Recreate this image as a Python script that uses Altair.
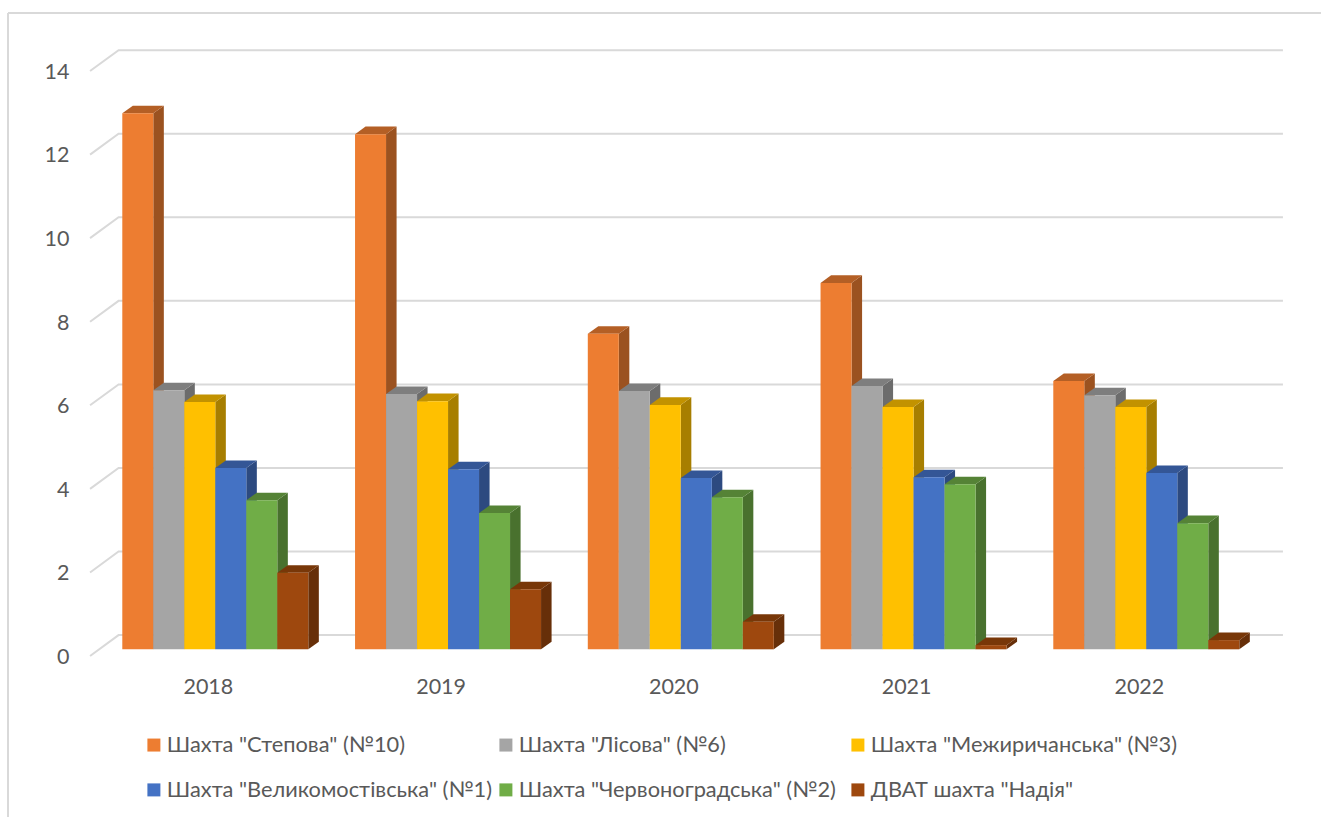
import altair as alt
import pandas as pd

years = [2018, 2019, 2020, 2021, 2022]
series = [
    'Шахта "Степова" (№10)',
    'Шахта "Лісова" (№6)',
    'Шахта "Межиричанська" (№3)',
    'Шахта "Великомостівська" (№1)',
    'Шахта "Червоноградська" (№2)',
    'ДВАТ шахта "Надія"',
]
stepova = [12.83, 12.33, 7.55, 8.77, 6.42]
lisova = [6.20, 6.11, 6.18, 6.30, 6.08]
mezhyrichanska = [5.92, 5.94, 5.85, 5.80, 5.80]
velykomostivska = [4.34, 4.31, 4.10, 4.12, 4.22]
chervonohradska = [3.57, 3.26, 3.64, 3.95, 3.02]
nadiia = [1.83, 1.44, 0.66, 0.10, 0.22]
columns = [stepova, lisova, mezhyrichanska, velykomostivska, chervonohradska, nadiia]

front_colors = ["#ED7D31", "#A5A5A5", "#FFC000", "#4472C4", "#70AD47", "#9E480E"]
side_colors = ["#9B5220", "#6C6C6C", "#A77E00", "#2D4A80", "#49712E", "#672F09"]
top_colors = ["#B45F25", "#7E7E7E", "#C29200", "#345696", "#558336", "#783708"]
y_ticks = [0, 2, 4, 6, 8, 10, 12, 14]

TEXT = "#595959"
GRID = "#D9D9D9"
FONT = "Lato"

# x is measured in bar widths, y in data units; the box depth is expressed in both
PITCH = 7.508
DEPTH_X = 0.34
DEPTH_Y = 0.18
WALL_X = -0.12
WALL_Y = 0.34
FLOOR_X = -1.04
FLOOR_Y = -0.16
GRID_END = 37.44

x_scale = alt.Scale(domain=[-3.945, 38.70], nice=False, zero=False)
y_scale = alt.Scale(domain=[-4.013, 15.54], nice=False, zero=False)
color_scale = alt.Scale(domain=series, range=front_colors)

label_centres = [g * PITCH + 2.76 for g in range(len(years))]

x_axis = alt.Axis(
    orient="bottom",
    values=label_centres,
    labelExpr=f"format(round((datum.value - 2.76) / {PITCH}) + {years[0]}, 'd')",
    offset=-141,
    labelPadding=0,
    ticks=False,
    domain=False,
    grid=False,
    labelFont=FONT,
    labelFontSize=21.5,
    labelColor=TEXT,
    labelFlush=False,
    labelOverlap=False,
)
y_axis = alt.Axis(
    orient="left",
    values=y_ticks,
    format="d",
    offset=-69,
    labelPadding=0,
    labelOffset=8,
    ticks=False,
    domain=False,
    grid=False,
    labelFont=FONT,
    labelFontSize=21.5,
    labelColor=TEXT,
    labelOverlap=False,
)


def x_enc(field):
    return alt.X(field, scale=x_scale, axis=x_axis, title=None)


def y_enc(field):
    return alt.Y(field, scale=y_scale, axis=y_axis, title=None)


grid_rows = []
for t in y_ticks:
    grid_rows += [
        {"tick": t, "step": 0, "gx": FLOOR_X, "gy": t + FLOOR_Y},
        {"tick": t, "step": 1, "gx": WALL_X, "gy": t + WALL_Y},
        {"tick": t, "step": 2, "gx": GRID_END, "gy": t + WALL_Y},
    ]

grid = alt.Chart(pd.DataFrame(grid_rows)).mark_line(color=GRID, strokeWidth=2).encode(
    x=x_enc("gx:Q"),
    y=y_enc("gy:Q"),
    order="step:Q",
    detail="tick:N",
)

frame_left = alt.Chart(pd.DataFrame({"k": [0]})).mark_rule(color=GRID, strokeWidth=2).encode(
    x=alt.value(8), y=alt.value(13), y2=alt.value(817)
)
frame_top = alt.Chart(pd.DataFrame({"k": [0]})).mark_rule(color=GRID, strokeWidth=2).encode(
    x=alt.value(8), x2=alt.value(1321), y=alt.value(13)
)

layers = [frame_left, frame_top, grid]

# Painted left to right, so each bar's front hides its neighbour's side wall
for s, name in enumerate(series):
    fronts, sides, tops = [], [], []
    for g, v in enumerate(columns[s]):
        x0 = g * PITCH + s
        x1 = x0 + 1
        fronts.append({"series": name, "x0": x0, "x1": x1, "y0": 0, "y1": v})
        sides += [
            {"bar": g, "x": x1, "y0": 0, "y1": v},
            {"bar": g, "x": x1 + DEPTH_X, "y0": DEPTH_Y, "y1": v + DEPTH_Y},
        ]
        tops += [
            {"bar": g, "y": v, "x0": x0, "x1": x1},
            {"bar": g, "y": v + DEPTH_Y, "x0": x0 + DEPTH_X, "x1": x1 + DEPTH_X},
        ]

    side = alt.Chart(pd.DataFrame(sides)).mark_area(
        color=side_colors[s], orient="vertical", interpolate="linear"
    ).encode(x=x_enc("x:Q"), y=y_enc("y0:Q"), y2="y1:Q", detail="bar:N")

    top = alt.Chart(pd.DataFrame(tops)).mark_area(
        color=top_colors[s], orient="horizontal", interpolate="linear"
    ).encode(y=y_enc("y:Q"), x=x_enc("x0:Q"), x2="x1:Q", detail="bar:N")

    front = alt.Chart(pd.DataFrame(fronts)).mark_bar(cornerRadius=0).encode(
        x=x_enc("x0:Q"),
        x2="x1:Q",
        y=y_enc("y0:Q"),
        y2="y1:Q",
        color=alt.Color(
            "series:N",
            scale=color_scale,
            title=None,
            legend=alt.Legend(
                orient="none",
                direction="horizontal",
                gridAlign="all",
                legendX=143,
                legendY=734,
                columns=3,
                symbolType="square",
                symbolSize=169,
                symbolStrokeWidth=0,
                labelFont=FONT,
                labelFontSize=21.8,
                labelColor=TEXT,
                labelOffset=2,
                columnPadding=2,
                rowPadding=22,
                padding=0,
                labelLimit=400,
            ),
        ),
    )
    layers += [side, top, front]

chart = alt.layer(*layers).properties(
    width=1322,
    height=817,
    padding=0,
    autosize=alt.AutoSizeParams(type="none"),
    background="white",
).configure_view(stroke=None)

chart.save("out.html", embed_options={"renderer": "svg", "actions": False})
